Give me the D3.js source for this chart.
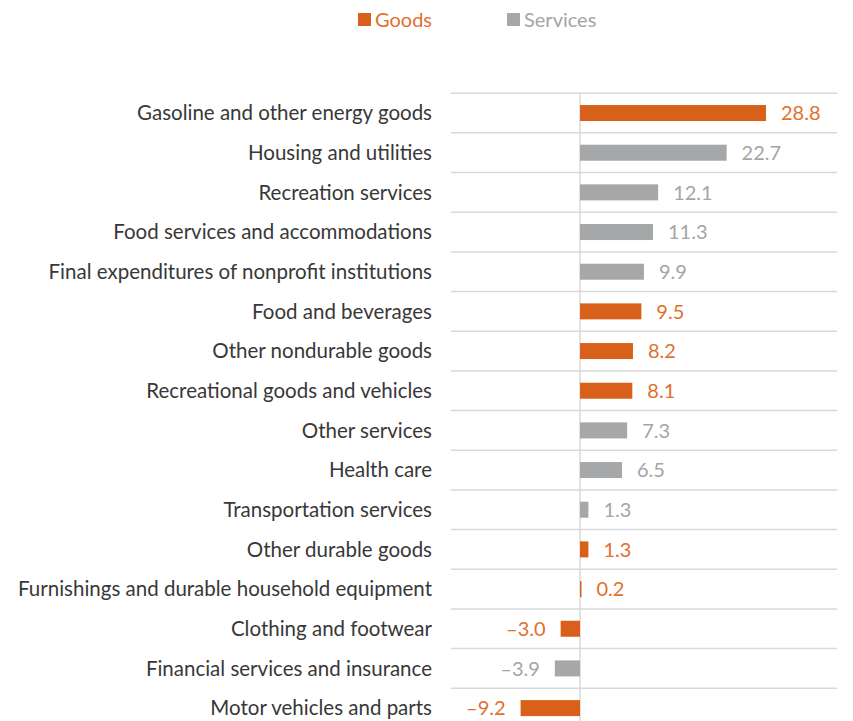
<!DOCTYPE html>
<html>
<head>
<meta charset="utf-8">
<script src="https://cdn.jsdelivr.net/npm/d3@7"></script>
<style>
  html, body { margin: 0; padding: 0; background: #fff; }
  svg { display: block; }
  text { font-family: Lato, "Open Sans", sans-serif; }
</style>
</head>
<body>
<svg id="chart" width="853" height="721"></svg>
<script>
// Contributions by spending category
const categories = [
  "Gasoline and other energy goods",
  "Housing and utilities",
  "Recreation services",
  "Food services and accommodations",
  "Final expenditures of nonprofit institutions",
  "Food and beverages",
  "Other nondurable goods",
  "Recreational goods and vehicles",
  "Other services",
  "Health care",
  "Transportation services",
  "Other durable goods",
  "Furnishings and durable household equipment",
  "Clothing and footwear",
  "Financial services and insurance",
  "Motor vehicles and parts"
];
const values = [28.8, 22.7, 12.1, 11.3, 9.9, 9.5, 8.2, 8.1, 7.3, 6.5, 1.3, 1.3, 0.2, -3.0, -3.9, -9.2];
const types = ["Goods", "Services", "Services", "Services", "Services", "Goods", "Goods", "Goods",
               "Services", "Services", "Services", "Goods", "Goods", "Goods", "Services", "Goods"];
const seriesNames = ["Goods", "Services"];

const barColor = { Goods: "#D9601A", Services: "#A5A7A8" };
const labelColor = { Goods: "#E0702E", Services: "#A3A5A6" };

const rows = categories.map((c, i) => ({ name: c, value: values[i], type: types[i] }));

const svg = d3.select("#chart");

const plotTop = 93.2, rowStep = 39.67;
const x = d3.scaleLinear().domain([-9.2, 28.8]).range([520.6, 766]);
const y = d3.scaleBand().domain(categories)
  .range([plotTop, plotTop + rowStep * categories.length])
  .paddingInner(0.6).paddingOuter(0.3);

// horizontal separators between categories
const gridYs = d3.range(categories.length + 1).map(i => plotTop + i * y.step());
svg.append("g").selectAll("line").data(gridYs).join("line")
  .attr("x1", 451).attr("x2", 837)
  .attr("y1", d => d).attr("y2", d => d)
  .attr("stroke", "#D9D9D9").attr("stroke-width", 1.5);

// zero line
svg.append("line")
  .attr("x1", x(0)).attr("x2", x(0))
  .attr("y1", plotTop).attr("y2", 721)
  .attr("stroke", "#D9D9D9").attr("stroke-width", 1.5);

// bars
svg.append("g").selectAll("rect").data(rows).join("rect")
  .attr("x", d => Math.min(x(0), x(d.value)))
  .attr("width", d => Math.max(1.5, Math.abs(x(d.value) - x(0))))
  .attr("y", d => y(d.name) + y.bandwidth() / 2 - 8)
  .attr("height", 16)
  .attr("fill", d => barColor[d.type]);

// category labels
svg.append("g").selectAll("text").data(rows).join("text")
  .attr("x", 432)
  .attr("y", d => y(d.name) + y.bandwidth() / 2)
  .attr("dy", "0.36em")
  .attr("text-anchor", "end")
  .attr("font-size", 20.5)
  .attr("fill", "#383838")
  .text(d => d.name);

// value labels
const fmt = v => (v < 0 ? "\u2013" + Math.abs(v).toFixed(1) : v.toFixed(1));
svg.append("g").selectAll("text").data(rows).join("text")
  .attr("x", d => d.value >= 0 ? Math.max(x(d.value), x(0) + 1.5) + 15 : x(d.value) - 15)
  .attr("y", d => y(d.name) + y.bandwidth() / 2)
  .attr("dy", "0.36em")
  .attr("text-anchor", d => d.value >= 0 ? "start" : "end")
  .attr("font-size", 20)
  .attr("fill", d => labelColor[d.type])
  .text(d => fmt(d.value));

// legend
const legend = svg.append("g").selectAll("g").data(seriesNames).join("g")
  .attr("transform", (d, i) => `translate(${[358, 507][i]},0)`);
legend.append("rect")
  .attr("x", 0).attr("y", 13).attr("width", 13).attr("height", 13)
  .attr("fill", d => barColor[d]);
legend.append("text")
  .attr("x", 17).attr("y", 19.5).attr("dy", "0.36em")
  .attr("font-size", 20)
  .attr("fill", d => d === "Goods" ? labelColor.Goods : "#A3A5A6")
  .text(d => d);
</script>
</body>
</html>
